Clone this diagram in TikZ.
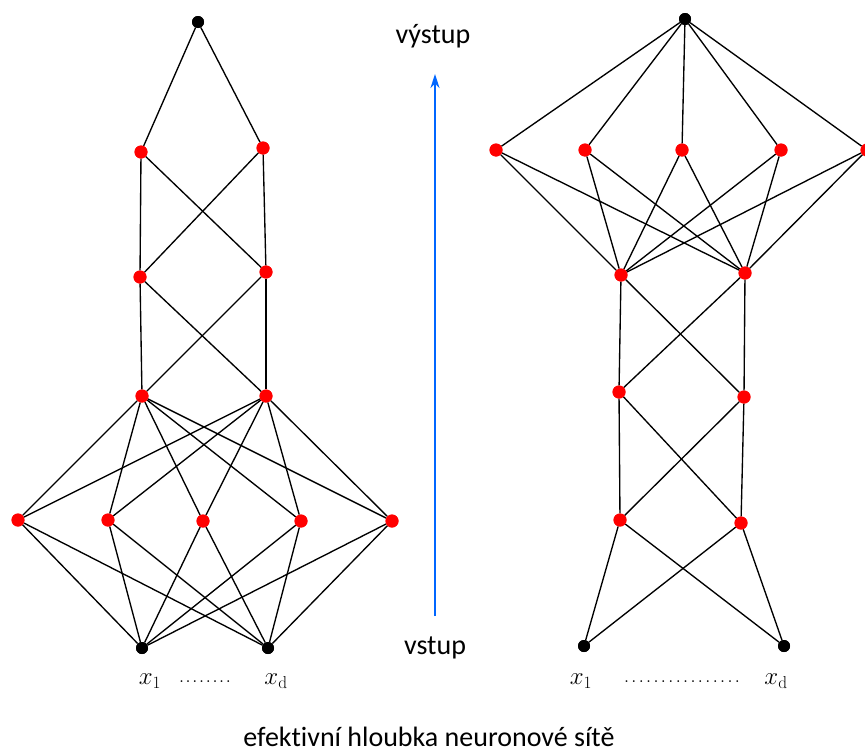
\documentclass[tikz,border=0pt]{standalone}
\usepackage[no-math]{fontspec}
\setmainfont{Carlito}[Ligatures=NoCommon]
\usetikzlibrary{arrows.meta}
\newcommand{\dotrow}[2]{\foreach \k in {1,...,#1}{.\hspace{#2}}}
\tikzset{
  neuron/.style={circle,fill=red,inner sep=0pt,minimum size=13pt},
  terminal/.style={circle,fill=black,inner sep=0pt,minimum size=12pt},
  link/.style={black,line width=1.35pt},
  caption/.style={font=\fontsize{28}{32}\selectfont},
  inlabel/.style={font=\fontsize{25}{30}\selectfont},
  dotlabel/.style={font=\fontsize{22}{26}\fontspec{Latin Modern Roman}}
}
\begin{document}
\begin{tikzpicture}[x=1pt,y=-1pt]
\useasboundingbox (0,0) rectangle (865,755);

% ---------- left network: narrow top, wide bottom ----------
\node[terminal] (Lo) at (198,22) {};
\node[neuron] (La1) at (141,152) {};
\node[neuron] (La2) at (263,148) {};
\node[neuron] (Lb1) at (140,277) {};
\node[neuron] (Lb2) at (266,272) {};
\node[neuron] (Lc1) at (142,396) {};
\node[neuron] (Lc2) at (266,396) {};
\node[neuron] (Ld1) at (18,520) {};
\node[neuron] (Ld2) at (108,520) {};
\node[neuron] (Ld3) at (203,521) {};
\node[neuron] (Ld4) at (301,521) {};
\node[neuron] (Ld5) at (392,521) {};
\node[terminal] (Li1) at (142,648) {};
\node[terminal] (Li2) at (268,648) {};

\foreach \a in {La1,La2} \draw[link] (Lo) -- (\a);
\foreach \a in {La1,La2} \foreach \b in {Lb1,Lb2} \draw[link] (\a) -- (\b);
\foreach \a in {Lb1,Lb2} \foreach \b in {Lc1,Lc2} \draw[link] (\a) -- (\b);
\foreach \a in {Lc1,Lc2} \foreach \b in {Ld1,Ld2,Ld3,Ld4,Ld5} \draw[link] (\a) -- (\b);
\foreach \a in {Ld1,Ld2,Ld3,Ld4,Ld5} \foreach \b in {Li1,Li2} \draw[link] (\a) -- (\b);

% ---------- right network: wide top, narrow bottom ----------
\node[terminal] (Ro) at (685,19) {};
\node[neuron] (Ra1) at (496,150) {};
\node[neuron] (Ra2) at (585,150) {};
\node[neuron] (Ra3) at (682,150) {};
\node[neuron] (Ra4) at (781,150) {};
\node[neuron] (Ra5) at (867,150) {};
\node[neuron] (Rb1) at (621,275) {};
\node[neuron] (Rb2) at (745,273) {};
\node[neuron] (Rc1) at (619,392) {};
\node[neuron] (Rc2) at (744,397) {};
\node[neuron] (Rd1) at (620,520) {};
\node[neuron] (Rd2) at (741,523) {};
\node[terminal] (Ri1) at (584,646) {};
\node[terminal] (Ri2) at (784,646) {};

\foreach \a in {Ra1,Ra2,Ra3,Ra4,Ra5} \draw[link] (Ro) -- (\a);
\foreach \a in {Ra1,Ra2,Ra3,Ra4,Ra5} \foreach \b in {Rb1,Rb2} \draw[link] (\a) -- (\b);
\foreach \a in {Rb1,Rb2} \foreach \b in {Rc1,Rc2} \draw[link] (\a) -- (\b);
\foreach \a in {Rc1,Rc2} \foreach \b in {Rd1,Rd2} \draw[link] (\a) -- (\b);
\foreach \a in {Rd1,Rd2} \foreach \b in {Ri1,Ri2} \draw[link] (\a) -- (\b);

% redraw nodes above the links
\foreach \n in {La1,La2,Lb1,Lb2,Lc1,Lc2,Ld1,Ld2,Ld3,Ld4,Ld5,Ra1,Ra2,Ra3,Ra4,Ra5,Rb1,Rb2,Rc1,Rc2,Rd1,Rd2}
  \fill[red] (\n) circle (6.5pt);
\foreach \n in {Lo,Li1,Li2,Ro,Ri1,Ri2}
  \fill[black] (\n) circle (6pt);

% ---------- input labels ----------
\node[inlabel] (Lx1) at (150,681) {$x_{\mathrm{1}}$};
\node[inlabel] (Lxd) at (276,681) {$x_{\mathrm{d}}$};
\node[dotlabel] (Ldots) at (205,682) {\dotrow{8}{1.2pt}};
\node[inlabel] (Rx1) at (581,681) {$x_{\mathrm{1}}$};
\node[inlabel] (Rxd) at (776,681) {$x_{\mathrm{d}}$};
\node[dotlabel] (Rdots) at (682,682) {\dotrow{16}{1.9pt}};

% ---------- depth arrow ----------
\node[caption] (out) at (433,36) {výstup};
\node[caption] (in) at (435,648) {vstup};
\coordinate (arrS) at (435,616);
\coordinate (arrE) at (435,74);
\draw[line width=2pt,color={rgb,255:red,0;green,102;blue,255},-{Stealth[length=14pt,width=9pt]}] (arrS) -- (arrE);

\node[caption,anchor=base,inner sep=0pt] (cap) at (429,746) {efektivní hloubka neuronové sítě};
\end{tikzpicture}
\end{document}
